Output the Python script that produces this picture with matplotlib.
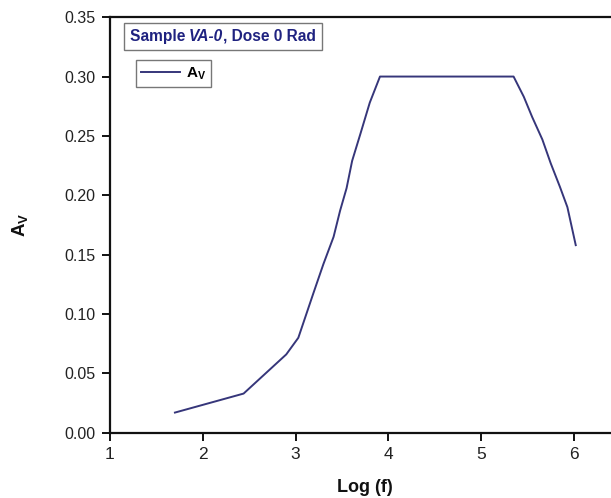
import matplotlib
matplotlib.use("Agg")
import matplotlib.pyplot as plt
from matplotlib.offsetbox import TextArea, HPacker, AnchoredOffsetbox

plt.rcParams['font.family'] = ['Liberation Sans', 'DejaVu Sans']
plt.rcParams['mathtext.fontset'] = 'custom'
plt.rcParams['mathtext.rm'] = 'Liberation Sans'
plt.rcParams['mathtext.bf'] = 'Liberation Sans:bold'
plt.rcParams['mathtext.it'] = 'Liberation Sans:italic'

# Data
log_f = [1.70, 2.44, 2.90, 3.03, 3.19, 3.30, 3.41, 3.48, 3.55, 3.61, 3.70,
         3.80, 3.91, 5.35, 5.46, 5.55, 5.66, 5.75, 5.85, 5.93, 6.02]
a_v = [0.017, 0.033, 0.066, 0.080, 0.117, 0.142, 0.165, 0.187, 0.206, 0.229,
       0.252, 0.278, 0.300, 0.300, 0.283, 0.266, 0.247, 0.227, 0.207, 0.190, 0.158]
x_ticks = [1, 2, 3, 4, 5, 6]
y_ticks = [0.00, 0.05, 0.10, 0.15, 0.20, 0.25, 0.30, 0.35]

line_color = '#36367a'
title_color = '#1f2280'

fig = plt.figure(figsize=(6.11, 4.98), dpi=100)
ax = fig.add_axes([0.180, 0.131, 0.820, 0.8345])

ax.plot(log_f, a_v, color=line_color, lw=1.4, label=r'$\mathbf{A_V}$')

ax.set_xlim(1, 6.40)
ax.set_ylim(0, 0.35)
ax.set_xticks(x_ticks)
ax.set_xticklabels([str(t) for t in x_ticks])
ax.set_yticks(y_ticks)
ax.set_yticklabels([f'{t:.2f}' for t in y_ticks])

for s in ['left', 'bottom', 'top']:
    ax.spines[s].set_linewidth(1.6)
    ax.spines[s].set_color('#111111')
ax.spines['right'].set_visible(False)

ax.tick_params(axis='both', direction='out', length=5.5, width=1.4,
               colors='#111111', labelcolor='#222222')
ax.tick_params(axis='y', pad=5, labelsize=11.5)
ax.tick_params(axis='x', pad=4.5, labelsize=12.5)
ax.tick_params(top=False, right=False)

ax.set_xlabel('Log (f)', fontsize=13, fontweight='bold', color='#111111')
ax.xaxis.set_label_coords(0.508, -0.112)
ax.set_ylabel(r'$\mathbf{A_V}$', fontsize=13.5, color='#111111')
ax.yaxis.set_label_coords(-0.160, 0.5)

leg = ax.legend(loc='upper left', bbox_to_anchor=(0.052, 0.897),
                borderaxespad=0, fancybox=False, edgecolor='#777777',
                fontsize=11, handlelength=2.5, handletextpad=0.4,
                borderpad=0.35, framealpha=1)
leg.get_frame().set_linewidth(1.0)

tprops = dict(color=title_color, fontsize=11.2, fontweight='bold')
parts = [
    TextArea('Sample ', textprops=tprops),
    TextArea('VA-0', textprops=dict(tprops, fontstyle='italic')),
    TextArea(', Dose 0 Rad', textprops=tprops),
]
pack = HPacker(children=parts, align='baseline', pad=0, sep=0)
box = AnchoredOffsetbox(loc='upper left', child=pack, pad=0.4,
                        frameon=True, bbox_to_anchor=(0.028, 0.985),
                        bbox_transform=ax.transAxes, borderpad=0)
box.patch.set_edgecolor('#777777')
box.patch.set_linewidth(1.0)
box.patch.set_boxstyle('square', pad=0)
ax.add_artist(box)

fig.savefig('out.png', dpi=100)
